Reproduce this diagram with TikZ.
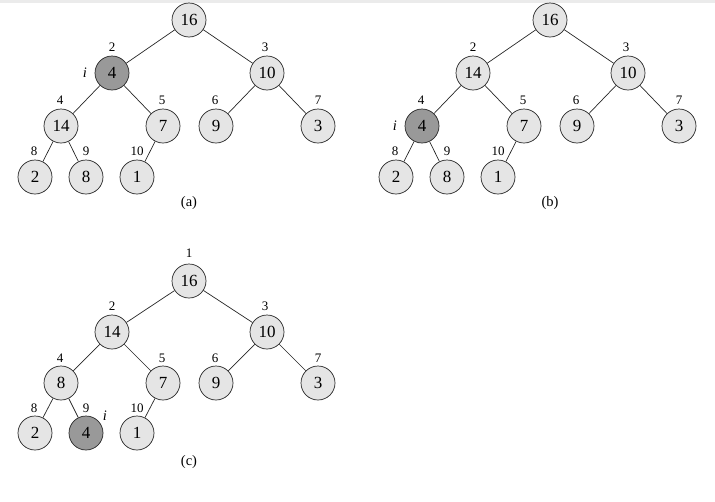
\documentclass[tikz,border=0pt]{standalone}
\usepackage{fontspec}
\setmainfont{Liberation Serif}
\begin{document}
\begin{tikzpicture}[x=1pt,y=-1pt,
  hn/.style={circle,draw=black!85,line width=0.7pt,fill=black!10,minimum size=34pt,inner sep=0pt,font=\fontsize{17}{18}\selectfont},
  hd/.style={hn,fill=black!40},
  lab/.style={font=\fontsize{13}{14}\selectfont,inner sep=0pt},
  captxt/.style={font=\fontsize{14.5}{15}\selectfont,inner sep=0pt},
  ed/.style={line width=0.7pt,draw=black!85}]
\useasboundingbox (0,0) rectangle (715,501);
\fill[black!8] (0,0) rectangle (715,3);
% ---------- (a)
\begin{scope}
\node[hn] (a1) at (189,20) {16};
\node[hd] (a2) at (112,73) {4};
\node[hn] (a3) at (267,73) {10};
\node[hn] (a4) at (61,126) {14};
\node[hn] (a5) at (163,126) {7};
\node[hn] (a6) at (216,126) {9};
\node[hn] (a7) at (318,126) {3};
\node[hn] (a8) at (35,177) {2};
\node[hn] (a9) at (86,177) {8};
\node[hn] (a10) at (137,177) {1};
\draw[ed] (a1)--(a2) (a1)--(a3) (a2)--(a4) (a2)--(a5) (a3)--(a6) (a3)--(a7) (a4)--(a8) (a4)--(a9) (a5)--(a10);
\node[lab] (la1) at (189,-6) {1};
\node[lab] (la2) at (112,47) {2};
\node[lab] (la3) at (265,47) {3};
\node[lab] (la4) at (60,100) {4};
\node[lab] (la5) at (162,100) {5};
\node[lab] (la6) at (215,100) {6};
\node[lab] (la7) at (318,100) {7};
\node[lab] (la8) at (34,151) {8};
\node[lab] (la9) at (86,151) {9};
\node[lab] (la10) at (137,151) {10};
\node[captxt] (ia) at (85,73) {\itshape i};
\node[captxt] (capa) at (189,203) {(a)};
\end{scope}
% ---------- (b)
\begin{scope}[xshift=361pt]
\node[hn] (b1) at (189,20) {16};
\node[hn] (b2) at (112,73) {14};
\node[hn] (b3) at (267,73) {10};
\node[hd] (b4) at (61,126) {4};
\node[hn] (b5) at (163,126) {7};
\node[hn] (b6) at (216,126) {9};
\node[hn] (b7) at (318,126) {3};
\node[hn] (b8) at (35,177) {2};
\node[hn] (b9) at (86,177) {8};
\node[hn] (b10) at (137,177) {1};
\draw[ed] (b1)--(b2) (b1)--(b3) (b2)--(b4) (b2)--(b5) (b3)--(b6) (b3)--(b7) (b4)--(b8) (b4)--(b9) (b5)--(b10);
\node[lab] (lb1) at (189,-6) {1};
\node[lab] (lb2) at (112,47) {2};
\node[lab] (lb3) at (265,47) {3};
\node[lab] (lb4) at (60,100) {4};
\node[lab] (lb5) at (162,100) {5};
\node[lab] (lb6) at (215,100) {6};
\node[lab] (lb7) at (318,100) {7};
\node[lab] (lb8) at (34,151) {8};
\node[lab] (lb9) at (86,151) {9};
\node[lab] (lb10) at (137,151) {10};
\node[captxt] (ib) at (34,126) {\itshape i};
\node[captxt] (capb) at (189,203) {(b)};
\end{scope}
% ---------- (c)
\begin{scope}[yshift=-261pt]
\node[hn] (c1) at (189,20) {16};
\node[hn] (c2) at (112,71) {14};
\node[hn] (c3) at (267,71) {10};
\node[hn] (c4) at (61,122) {8};
\node[hn] (c5) at (163,122) {7};
\node[hn] (c6) at (216,122) {9};
\node[hn] (c7) at (318,122) {3};
\node[hn] (c8) at (35,172) {2};
\node[hd] (c9) at (86,172) {4};
\node[hn] (c10) at (137,172) {1};
\draw[ed] (c1)--(c2) (c1)--(c3) (c2)--(c4) (c2)--(c5) (c3)--(c6) (c3)--(c7) (c4)--(c8) (c4)--(c9) (c5)--(c10);
\node[lab] (lc1) at (189,-8) {1};
\node[lab] (lc2) at (112,45) {2};
\node[lab] (lc3) at (265,45) {3};
\node[lab] (lc4) at (60,97) {4};
\node[lab] (lc5) at (162,97) {5};
\node[lab] (lc6) at (215,97) {6};
\node[lab] (lc7) at (318,97) {7};
\node[lab] (lc8) at (34,147) {8};
\node[lab] (lc9) at (86,147) {9};
\node[lab] (lc10) at (137,147) {10};
\node[captxt] (ic) at (105,155) {\itshape i};
\node[captxt] (capc) at (189,201) {(c)};
\end{scope}
\end{tikzpicture}
\end{document}
